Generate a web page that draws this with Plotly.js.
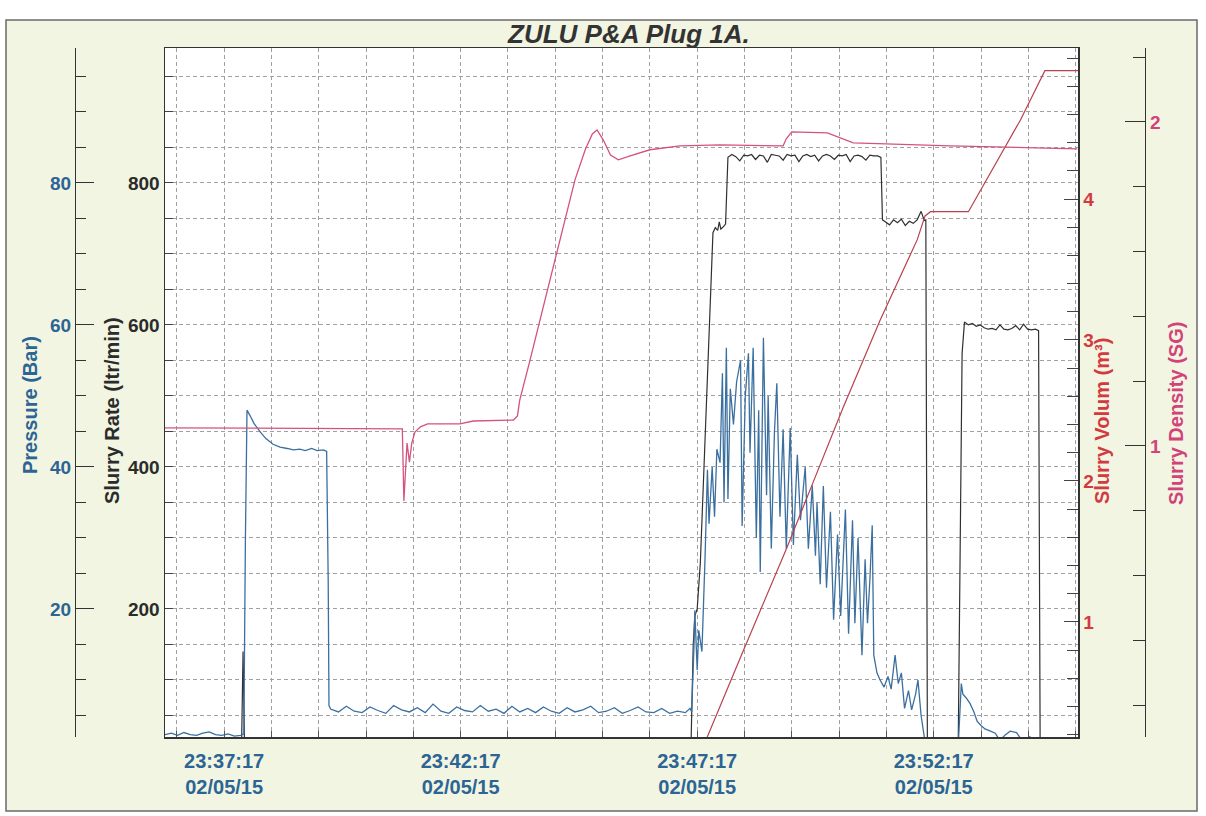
<!DOCTYPE html>
<html><head><meta charset="utf-8">
<script src="https://cdn.plot.ly/plotly-3.0.1.min.js"></script>
<style>html,body{margin:0;padding:0;background:#fff;}#chart{width:1206px;height:816px;}</style>
</head><body><div id="chart"></div>
<script>
const DAY = '2015-05-02 ';
const chartTitle = 'ZULU P&amp;A Plug 1A.';
const axisTitles = {pressure:'Pressure (Bar)', rate:'Slurry Rate (ltr/min)', volume:'Slurry Volum (m³)', density:'Slurry Density (SG)'};
const xRange = ['23:36:02', '23:55:20'];
const xTickStart = '23:37:17';
const volumeTicks = [1, 2, 3, 4];
const densityTicks = [1, 2];

// Pressure (Bar) – blue trace
const pressureTime = [
'23:36:02','23:36:10','23:36:18','23:36:26','23:36:34','23:36:42','23:36:50','23:36:58','23:37:06','23:37:14','23:37:22','23:37:30','23:37:38','23:37:42','23:37:44','23:37:46',
'23:37:50','23:37:55','23:38:03','23:38:10','23:38:19','23:38:28','23:38:37','23:38:45','23:38:53','23:39:00','23:39:08','23:39:15','23:39:23','23:39:27','23:39:29','23:39:30',
'23:39:32','23:39:42','23:39:52','23:40:02','23:40:12','23:40:22','23:40:32','23:40:42','23:40:52','23:41:02','23:41:12','23:41:22','23:41:32','23:41:42','23:41:52','23:42:02','23:42:12','23:42:22','23:42:32','23:42:42','23:42:52','23:43:02','23:43:12','23:43:22','23:43:32','23:43:42','23:43:52','23:44:02','23:44:12','23:44:22','23:44:32','23:44:42','23:44:52','23:45:02','23:45:12','23:45:22','23:45:32','23:45:42','23:45:52','23:46:02','23:46:12','23:46:22','23:46:32','23:46:42','23:46:52','23:47:02',
'23:47:08','23:47:10','23:47:13','23:47:14','23:47:17','23:47:19','23:47:23','23:47:27','23:47:30','23:47:32','23:47:36','23:47:39','23:47:42','23:47:46','23:47:49','23:47:51','23:47:54','23:47:56','23:47:59','23:48:03','23:48:07','23:48:12','23:48:14','23:48:18','23:48:22','23:48:24','23:48:28','23:48:32','23:48:35','23:48:37','23:48:41','23:48:45','23:48:47','23:48:51','23:48:55','23:48:58','23:49:02','23:49:06','23:49:10','23:49:15','23:49:19','23:49:24','23:49:28','23:49:34','23:49:38','23:49:43','23:49:47','23:49:49','23:49:53','23:49:57','23:50:01','23:50:06','23:50:10','23:50:15','23:50:19','23:50:25','23:50:29','23:50:34','23:50:37','23:50:41','23:50:46','23:50:50','23:50:53','23:50:56','23:50:59','23:51:01','23:51:05','23:51:09','23:51:14','23:51:19','23:51:23','23:51:28','23:51:32','23:51:36','23:51:40','23:51:45','23:51:49','23:51:54','23:51:57','23:52:01','23:52:05','23:52:08',
'23:52:48','23:52:52','23:52:54','23:52:58','23:53:03','23:53:08','23:53:12','23:53:17','23:53:22','23:53:29','23:53:35','23:53:41','23:53:48','23:53:54','23:54:02','23:54:07','23:54:14','23:54:19','23:54:23','23:54:27'
];
const pressureBar = [
2.3,2.5,2.2,2.6,2.3,2.2,2.5,2.7,2.3,2.2,2.4,2.1,2.2,2.4,30.0,48.0,
47.2,46.1,44.9,44.0,43.2,42.8,42.6,42.4,42.5,42.3,42.6,42.3,42.4,42.2,24.0,6.4,
5.9,5.5,6.3,5.6,5.4,6.2,5.7,5.3,6.4,5.8,5.5,6.1,5.4,6.6,5.6,5.3,6.2,5.7,5.5,6.4,5.6,5.9,5.3,6.3,5.5,6.0,5.4,6.2,5.6,5.3,6.1,5.5,5.8,6.3,5.4,5.6,6.1,5.3,5.7,6.2,5.5,5.4,6.0,5.3,5.6,5.4,
6.0,5.5,15.0,19.8,11.4,17.0,14.0,27.3,39.6,32.0,40.0,33.0,42.5,40.6,53.2,35.0,56.8,35.5,51.0,46.0,52.0,55.0,31.7,50.0,56.0,42.0,56.8,30.0,48.0,25.2,58.2,36.0,50.0,28.5,45.0,51.8,33.0,45.3,28.5,45.5,29.0,41.7,32.5,40.0,28.5,37.4,27.5,35.0,23.5,37.3,23.0,33.7,18.5,30.5,19.0,34.0,16.5,32.5,18.0,30.0,13.5,27.0,18.0,24.0,31.8,13.5,11.0,10.0,9.0,10.5,8.7,13.5,9.5,11.0,6.0,8.5,5.8,8.0,10.0,5.0,2.0,0.5,
0.5,9.5,8.0,7.5,6.7,5.5,4.2,3.6,3.1,2.8,2.5,1.5,2.3,2.8,2.6,1.8,1.6,2.0,1.3,0.5
];

// Slurry rate (ltr/min) – black trace
const rateTime = [
'23:36:02','23:37:39','23:37:41','23:37:43','23:47:09','23:47:12','23:47:14','23:47:17','23:47:21','23:47:37','23:47:40','23:47:43','23:47:45','23:47:47','23:47:50','23:47:53','23:47:56',
'23:48:01','23:48:06','23:48:11','23:48:16','23:48:21','23:48:26','23:48:31','23:48:36','23:48:41','23:48:46','23:48:51','23:48:56','23:49:01','23:49:06','23:49:11','23:49:16','23:49:21','23:49:26','23:49:31','23:49:36','23:49:41','23:49:46','23:49:51','23:49:56','23:50:01','23:50:06','23:50:11','23:50:16','23:50:21','23:50:26','23:50:31','23:50:36','23:50:41','23:50:46','23:50:51','23:50:56','23:51:01','23:51:06',
'23:51:10','23:51:12','23:51:16','23:51:21','23:51:26','23:51:31','23:51:36','23:51:41','23:51:46','23:51:51','23:51:56','23:52:01','23:52:05','23:52:07','23:52:09',
'23:52:48','23:52:53','23:52:56','23:53:01','23:53:06','23:53:11','23:53:16','23:53:21','23:53:26','23:53:31','23:53:36','23:53:41','23:53:46','23:53:51','23:53:56','23:54:01','23:54:06','23:54:11','23:54:16','23:54:21','23:54:26','23:54:30','23:54:32','23:55:20'
];
const rateLpm = [
0,0,140,0,0,150,190,200,265,730,737,733,745,735,738,742,836,
840,837,831,839,838,840,833,839,838,829,840,839,838,832,840,838,839,830,838,840,837,839,831,838,840,838,833,839,838,840,830,838,839,837,832,839,838,838,
836,748,745,741,748,744,749,740,746,743,748,760,747,748,0,
0,560,604,600,602,598,600,596,594,595,593,600,594,593,595,599,593,601,594,593,594,592,0,0
];

// Slurry volume (m³) – red trace
const volumeTime = ['23:47:13','23:47:28','23:48:12','23:49:11','23:49:44','23:50:22','23:51:09','23:51:56','23:52:06','23:52:13','23:53:01','23:54:07','23:54:38','23:55:20'];
const volumeM3 = [0,0.16,0.75,1.53,1.99,2.52,3.14,3.71,3.88,3.91,3.91,4.56,4.91,4.91];

// Slurry density (SG) – pink trace
const densityTime = ['23:36:02','23:41:03','23:41:05','23:41:09','23:41:12','23:41:15','23:41:19','23:41:26','23:41:35','23:42:16','23:42:33','23:43:24','23:43:29','23:43:32','23:43:45','23:44:04','23:44:23','23:44:42','23:44:55','23:45:04','23:45:10','23:45:18','23:45:27','23:45:37','23:45:52','23:46:17','23:46:55','23:47:46','23:49:06','23:49:10','23:49:17','23:50:02','23:50:35','23:52:38','23:55:19'];
const densitySG = [1.056,1.053,0.83,1.009,0.95,1.009,1.043,1.059,1.068,1.068,1.077,1.080,1.093,1.142,1.265,1.451,1.636,1.821,1.914,1.963,1.975,1.944,1.898,1.883,1.895,1.914,1.926,1.929,1.926,1.948,1.969,1.966,1.935,1.926,1.917];

const W = 1206, H = 816;
const fx = v => v / W, fy = v => 1 - v / H;
const withDay = arr => arr.map(t => DAY + t);

const C = {blue:'#2c6594', blueLine:'#3b6f9f', dark:'#2b2b2b', red:'#d23a3f', redLine:'#b8414d', pink:'#d2437a', pinkLine:'#d4527f', grid:'#a0a0a0', paper:'#f2f5e2'};
const FONT = 'Liberation Sans, Arial, sans-serif';
const gridDash = '4px,3px';

const traces = [
  {x: withDay(rateTime), y: rateLpm, type:'scatter', mode:'lines', line:{color:'#303030', width:1.2, simplify:false}, yaxis:'y', hoverinfo:'skip'},
  {x: withDay(pressureTime), y: pressureBar, type:'scatter', mode:'lines', line:{color:C.blueLine, width:1.3, simplify:false}, yaxis:'y2', hoverinfo:'skip'},
  {x: withDay(volumeTime), y: volumeM3, type:'scatter', mode:'lines', line:{color:C.redLine, width:1.2, simplify:false}, yaxis:'y3', hoverinfo:'skip'},
  {x: withDay(densityTime), y: densitySG, type:'scatter', mode:'lines', line:{color:C.pinkLine, width:1.3, simplify:false}, yaxis:'y4', hoverinfo:'skip'}
];

const tickFont = (color, size) => ({family:FONT, size:size || 19, color:color, weight:'bold'});

const layout = {
  width: W, height: H,
  margin:{l:0, r:0, t:0, b:0, pad:0, autoexpand:false},
  paper_bgcolor: C.paper, plot_bgcolor:'#ffffff',
  showlegend:false,
  font:{family:FONT},
  xaxis:{
    domain:[fx(165), fx(1078)], type:'date', range: withDay(xRange),
    tick0: DAY + xTickStart, dtick: 300000, tickformat:'%H:%M:%S<br>%d/%m/%y',
    tickfont: tickFont(C.blue, 20), ticks:'inside', ticklen:6, tickcolor:'#555',
    ticklabelstandoff: 5,
    showgrid:true, gridcolor:C.grid, griddash:gridDash, gridwidth:1,
    minor:{dtick:60000, tick0: DAY + xTickStart, showgrid:true, gridcolor:C.grid, griddash:gridDash, gridwidth:1, ticks:'inside', ticklen:6, tickcolor:'#555'},
    showline:true, linecolor:'#333', linewidth:1.5, mirror:true, zeroline:false, fixedrange:true
  },
  yaxis:{
    domain:[fy(737), fy(48)], range:[19.7, 990], tick0:0, dtick:200,
    tickfont: tickFont(C.dark), ticks:'inside', ticklen:8, tickcolor:'#444',
    showgrid:true, gridcolor:C.grid, griddash:gridDash, gridwidth:1,
    minor:{dtick:50, tick0:0, showgrid:true, gridcolor:C.grid, griddash:gridDash, gridwidth:1, ticks:'inside', ticklen:8, tickcolor:'#444'},
    showline:true, linecolor:'#333', linewidth:1.5, mirror:true, zeroline:false, fixedrange:true
  },
  yaxis2:{
    overlaying:'y', anchor:'free', position: fx(75), side:'left',
    range:[1.97, 99.0], tick0:0, dtick:20,
    tickfont: tickFont(C.blue), ticks:'inside', ticklen:18, tickcolor:'#333',
    minor:{dtick:5, tick0:0, ticks:'inside', ticklen:10, tickcolor:'#333', showgrid:false},
    showgrid:false, showline:true, linecolor:'#333', linewidth:1.2, zeroline:false, fixedrange:true
  },
  yaxis3:{
    overlaying:'y', anchor:'x', side:'right',
    range:[0.184, 5.071], tickmode:'array', tickvals: volumeTicks,
    tickfont: tickFont(C.red), ticks:'inside', ticklen:14, tickcolor:'#444',
    minor:{dtick:0.2, tick0:0, ticks:'inside', ticklen:11, tickcolor:'#444', showgrid:false},
    showgrid:false, showline:true, linecolor:'#333', linewidth:1.5, zeroline:false, fixedrange:true
  },
  yaxis4:{
    overlaying:'y', anchor:'free', position: fx(1145), side:'right',
    range:[0.102, 2.228], tickmode:'array', tickvals: densityTicks,
    tickfont: tickFont(C.pink), ticks:'inside', ticklen:20, tickcolor:'#333',
    minor:{dtick:0.2, tick0:0, ticks:'inside', ticklen:12, tickcolor:'#333', showgrid:false},
    showgrid:false, showline:true, linecolor:'#333', linewidth:1.2, zeroline:false, fixedrange:true
  },
  shapes:[
    {type:'rect', xref:'paper', yref:'paper', x0:0, x1:1, y0:fy(20), y1:1, fillcolor:'#ffffff', line:{width:0}, layer:'below'},
    {type:'rect', xref:'paper', yref:'paper', x0:0, x1:1, y0:0, y1:fy(811), fillcolor:'#ffffff', line:{width:0}, layer:'below'},
    {type:'rect', xref:'paper', yref:'paper', x0:fx(1197), x1:1, y0:0, y1:1, fillcolor:'#ffffff', line:{width:0}, layer:'below'},
    {type:'rect', xref:'paper', yref:'paper', x0:0, x1:fx(6), y0:0, y1:1, fillcolor:'#ffffff', line:{width:0}, layer:'below'},
    {type:'rect', xref:'paper', yref:'paper', x0:fx(6), x1:fx(1197), y0:fy(811), y1:fy(20), line:{color:'#6a6a6a', width:1.5}, layer:'below'}
  ],
  annotations:[
    {text:'<b><i>' + chartTitle + '</i></b>', xref:'paper', yref:'paper', x:fx(628), y:fy(34), showarrow:false, xanchor:'center', yanchor:'middle', font:{family:FONT, size:26, color:'#333333'}},
    {text:'<b>' + axisTitles.pressure + '</b>', xref:'paper', yref:'paper', x:fx(30), y:fy(405), textangle:-90, showarrow:false, xanchor:'center', yanchor:'middle', font:{family:FONT, size:20, color:C.blue}},
    {text:'<b>' + axisTitles.rate + '</b>', xref:'paper', yref:'paper', x:fx(112), y:fy(410), textangle:-90, showarrow:false, xanchor:'center', yanchor:'middle', font:{family:FONT, size:20, color:C.dark}},
    {text:'<b>' + axisTitles.volume + '</b>', xref:'paper', yref:'paper', x:fx(1102), y:fy(421), textangle:-90, showarrow:false, xanchor:'center', yanchor:'middle', font:{family:FONT, size:20, color:C.red}},
    {text:'<b>' + axisTitles.density + '</b>', xref:'paper', yref:'paper', x:fx(1176), y:fy(414), textangle:-90, showarrow:false, xanchor:'center', yanchor:'middle', font:{family:FONT, size:20, color:C.pink}}
  ]
};

Plotly.newPlot('chart', traces, layout, {displayModeBar:false, staticPlot:true});
</script>
</body></html>
